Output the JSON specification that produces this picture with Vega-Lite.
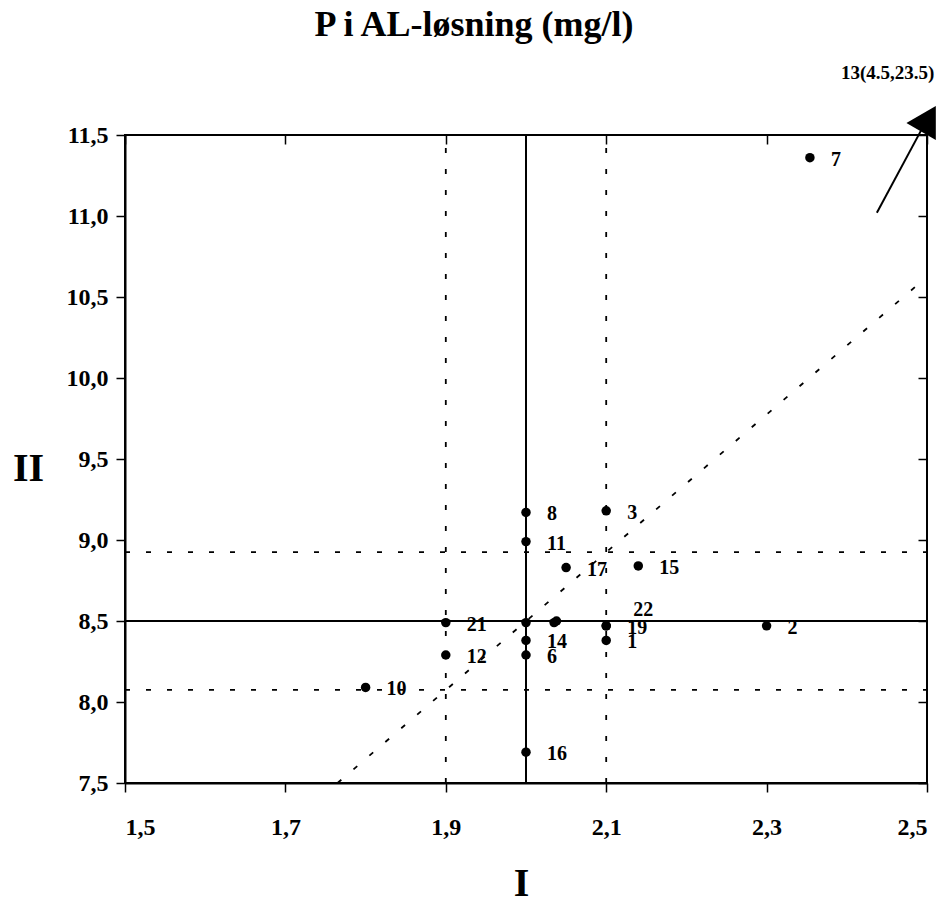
{
  "$schema": "https://vega.github.io/schema/vega-lite/v6.json",
  "width": 802,
  "height": 648,
  "autosize": {"type": "none"},
  "padding": {"left": 125, "top": 135, "right": 24, "bottom": 121},
  "background": "white",
  "title": {
    "text": "P i AL-løsning (mg/l)",
    "font": "Liberation Serif",
    "fontSize": 36,
    "fontWeight": "bold",
    "color": "black",
    "anchor": "middle",
    "frame": "group",
    "dx": -52,
    "offset": 20
  },
  "config": {
    "view": {"stroke": "black", "strokeWidth": 2},
    "axis": {
      "labelFont": "Liberation Serif",
      "labelFontSize": 24,
      "labelFontWeight": "bold",
      "labelColor": "black",
      "titleFont": "Liberation Serif",
      "titleFontWeight": "bold",
      "titleColor": "black",
      "titleFontSize": 40,
      "domainColor": "black",
      "domainWidth": 2,
      "tickColor": "black",
      "tickWidth": 1.5,
      "grid": false
    }
  },
  "datasets": {
    "labs": [
      {"I": 2.1, "II": 8.38, "label": "1"},
      {"I": 2.3, "II": 8.47, "label": "2"},
      {"I": 2.1, "II": 9.18, "label": "3"},
      {"I": 2.0, "II": 8.29, "label": "6"},
      {"I": 2.354, "II": 11.36, "label": "7"},
      {"I": 2.0, "II": 9.17, "label": "8"},
      {"I": 1.8, "II": 8.09, "label": "10"},
      {"I": 2.0, "II": 8.99, "label": "11"},
      {"I": 1.9, "II": 8.29, "label": "12"},
      {"I": 2.0, "II": 8.38, "label": "14"},
      {"I": 2.14, "II": 8.84, "label": "15"},
      {"I": 2.0, "II": 7.69, "label": "16"},
      {"I": 2.05, "II": 8.83, "label": "17"},
      {"I": 2.1, "II": 8.47, "label": "19"},
      {"I": 1.9, "II": 8.49, "label": "21"},
      {"I": 2.1, "II": 8.47, "label": "22"},
      {"I": 2.0, "II": 8.49, "label": ""},
      {"I": 2.035, "II": 8.49, "label": ""},
      {"I": 2.038, "II": 8.5, "label": ""}
    ],
    "refs": [
      {"I": 2.0, "I2": 2.0, "II": 7.5, "II2": 11.5, "kind": "solid"},
      {"I": 1.5, "I2": 2.5, "II": 8.5, "II2": 8.5, "kind": "solid"},
      {"I": 1.9, "I2": 1.9, "II": 7.5, "II2": 11.5, "kind": "dotted"},
      {"I": 2.1, "I2": 2.1, "II": 7.5, "II2": 11.5, "kind": "dotted"},
      {"I": 1.5, "I2": 2.5, "II": 8.075, "II2": 8.075, "kind": "dotted"},
      {"I": 1.5, "I2": 2.5, "II": 8.925, "II2": 8.925, "kind": "dotted"},
      {"I": 1.765, "I2": 2.5, "II": 7.5, "II2": 10.625, "kind": "dotted"}
    ],
    "outlier": [
      {"I": 2.4375, "II": 11.02, "I2": 2.495, "II2": 11.55, "tipI": 2.5018, "tipII": 11.6, "textI": 2.451, "textII": 11.88, "label": "13(4.5,23.5)"}
    ]
  },
  "layer": [
    {
      "data": {"name": "refs"},
      "transform": [{"filter": "datum.kind === 'dotted'"}],
      "mark": {"type": "rule", "color": "black", "strokeWidth": 1.8, "strokeDash": [5, 16]},
      "encoding": {
        "x": {
          "field": "I", "type": "quantitative",
          "scale": {"domain": [1.5, 2.5], "nice": false, "zero": false},
          "axis": {
            "values": [1.5, 1.7, 1.9, 2.1, 2.3, 2.5],
            "labelExpr": "replace(format(datum.value, '.1f'), '.', ',')",
            "tickSize": 9,
            "labelPadding": 23,
            "title": "I",
            "titleX": 396,
            "titleY": 100,
            "titleAlign": "center",
            "titleBaseline": "middle"
          }
        },
        "x2": {"field": "I2"},
        "y": {
          "field": "II", "type": "quantitative",
          "scale": {"domain": [7.5, 11.5], "nice": false, "zero": false},
          "axis": {
            "values": [7.5, 8, 8.5, 9, 9.5, 10, 10.5, 11, 11.5],
            "labelExpr": "replace(format(datum.value, '.1f'), '.', ',')",
            "tickSize": 9,
            "labelPadding": 8,
            "title": "II",
            "titleAngle": 0,
            "titleX": -97,
            "titleY": 333,
            "titleAlign": "center",
            "titleBaseline": "middle"
          }
        },
        "y2": {"field": "II2"}
      }
    },
    {
      "data": {"name": "refs"},
      "transform": [{"filter": "datum.kind === 'solid'"}],
      "mark": {"type": "rule", "color": "black", "strokeWidth": 2},
      "encoding": {
        "x": {"field": "I", "type": "quantitative", "axis": {"values": [1.5, 1.7, 1.9, 2.1, 2.3, 2.5], "tickSize": -9, "labels": false, "domain": false, "title": null}},
        "x2": {"field": "I2"},
        "y": {"field": "II", "type": "quantitative", "axis": {"values": [7.5, 8, 8.5, 9, 9.5, 10, 10.5, 11, 11.5], "tickSize": -9, "labels": false, "domain": false, "title": null}},
        "y2": {"field": "II2"}
      }
    },
    {
      "data": {"name": "labs"},
      "mark": {"type": "point", "filled": true, "color": "black", "opacity": 1, "size": 90},
      "encoding": {
        "x": {"field": "I", "type": "quantitative", "axis": null},
        "y": {"field": "II", "type": "quantitative", "axis": null}
      }
    },
    {
      "data": {"name": "labs"},
      "transform": [{"filter": "datum.label !== '22'"}],
      "mark": {"type": "text", "align": "left", "baseline": "middle", "dx": 21, "dy": 2, "font": "Liberation Serif", "fontSize": 20, "fontWeight": "bold", "color": "black"},
      "encoding": {
        "x": {"field": "I", "type": "quantitative", "axis": null},
        "y": {"field": "II", "type": "quantitative", "axis": null},
        "text": {"field": "label"}
      }
    },
    {
      "data": {"name": "labs"},
      "transform": [{"filter": "datum.label === '22'"}],
      "mark": {"type": "text", "align": "left", "baseline": "middle", "dx": 27, "dy": -16, "font": "Liberation Serif", "fontSize": 20, "fontWeight": "bold", "color": "black"},
      "encoding": {
        "x": {"field": "I", "type": "quantitative", "axis": null},
        "y": {"field": "II", "type": "quantitative", "axis": null},
        "text": {"field": "label"}
      }
    },
    {
      "data": {"name": "outlier"},
      "mark": {"type": "rule", "color": "black", "strokeWidth": 2},
      "encoding": {
        "x": {"field": "I", "type": "quantitative", "axis": null},
        "y": {"field": "II", "type": "quantitative", "axis": null},
        "x2": {"field": "I2"},
        "y2": {"field": "II2"}
      }
    },
    {
      "data": {"name": "outlier"},
      "mark": {"type": "point", "shape": "triangle-up", "filled": true, "color": "black", "opacity": 1, "size": 1150, "angle": 30},
      "encoding": {
        "x": {"field": "tipI", "type": "quantitative", "axis": null},
        "y": {"field": "tipII", "type": "quantitative", "axis": null}
      }
    },
    {
      "data": {"name": "outlier"},
      "mark": {"type": "text", "align": "center", "baseline": "middle", "font": "Liberation Serif", "fontSize": 19, "fontWeight": "bold", "color": "black"},
      "encoding": {
        "x": {"field": "textI", "type": "quantitative", "axis": null},
        "y": {"field": "textII", "type": "quantitative", "axis": null},
        "text": {"field": "label"}
      }
    }
  ],
  "resolve": {"axis": {"x": "independent", "y": "independent"}}
}
